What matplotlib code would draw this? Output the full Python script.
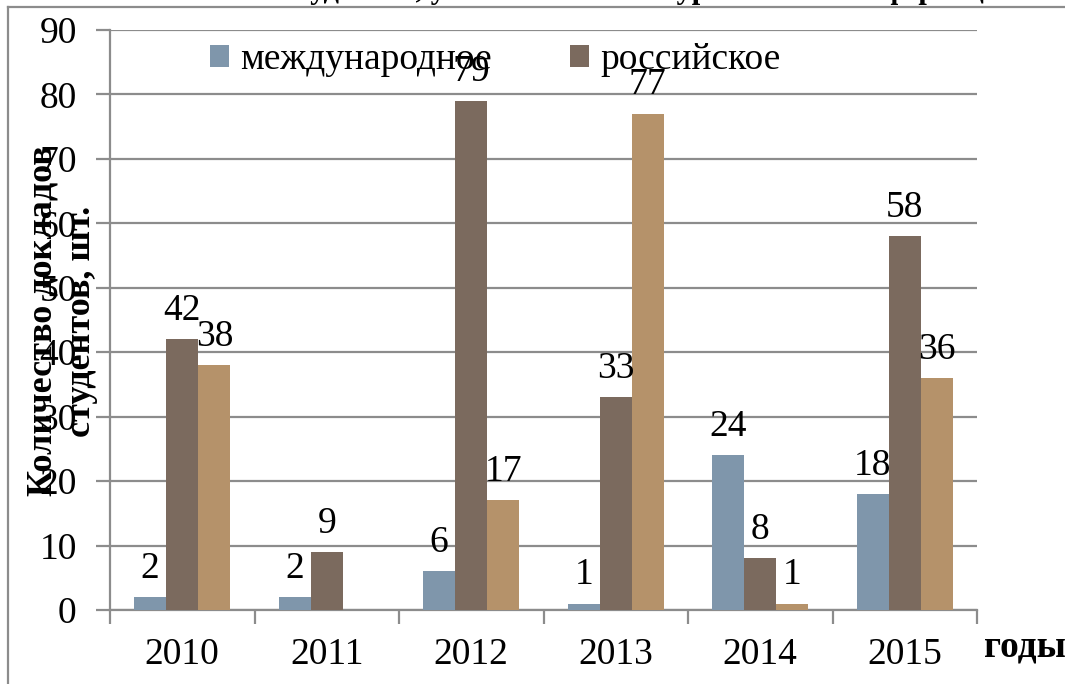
import numpy as np
import matplotlib.pyplot as plt
from matplotlib.lines import Line2D

plt.rcParams['font.family'] = ['Liberation Serif', 'DejaVu Serif']

# Data
years = ['2010', '2011', '2012', '2013', '2014', '2015']
intl = [2, 2, 6, 1, 24, 18]        # международное
russian = [42, 9, 79, 33, 8, 58]   # российское
third = [38, 0, 17, 77, 1, 36]     # третья серия (подпись легенды обрезана)
series_names = ['международное', 'российское']

c_intl = '#7F96AB'
c_rus = '#7B6A5E'
c_third = '#B5926A'
grid_c = '#8C8C8C'

fig = plt.figure(figsize=(10.65, 6.84), dpi=100)
ax = fig.add_axes([110 / 1065, 74 / 684, 867 / 1065, 580 / 684])

x = np.arange(len(years))
w = 0.222
b1 = ax.bar(x - w, intl, w, color=c_intl, label=series_names[0], zorder=3)
b2 = ax.bar(x, russian, w, color=c_rus, label=series_names[1], zorder=3)
b3 = ax.bar(x + w, third, w, color=c_third, zorder=3)

# data labels (zero values are not labelled)
for bars, vals in [(b1, intl), (b2, russian), (b3, third)]:
    for rect, v in zip(bars, vals):
        if v == 0:
            continue
        ax.annotate(str(v), (rect.get_x() + rect.get_width() / 2, v),
                    xytext=(0, 14), textcoords='offset points',
                    ha='center', va='baseline', fontsize=27, zorder=5)

ax.set_xlim(-0.5, len(years) - 0.5)
ax.set_ylim(0, 90)
ax.set_yticks(np.arange(0, 91, 10))
ax.yaxis.grid(True, color=grid_c, lw=1.6, zorder=0)
ax.set_axisbelow(True)

ax.set_xticks(x)
ax.set_xticklabels(years)
ax.set_xticks(np.arange(-0.5, len(years)), minor=True)
ax.tick_params(axis='x', which='major', length=0, pad=20, labelsize=27)
ax.tick_params(axis='x', which='minor', length=10, width=1.6, color=grid_c, direction='out')
ax.tick_params(axis='y', length=10, width=1.6, color=grid_c, direction='out', pad=14, labelsize=27)

for s in ['top', 'right']:
    ax.spines[s].set_visible(False)
for s in ['left', 'bottom']:
    ax.spines[s].set_color(grid_c)
    ax.spines[s].set_linewidth(1.6)

# y axis title (overlaps the tick labels, as in the original)
fig.text(62 / 1065, 1 - 321 / 684, 'Количество докладов\nстудентов, шт.',
         fontsize=26, fontweight='bold', rotation=90, ha='center', va='center',
         multialignment='center', linespacing=1.2, zorder=6)

fig.text(1025 / 1065, 1 - 647 / 684, 'годы', fontsize=27, fontweight='bold',
         ha='center', va='center')

ax.legend(loc='upper left', bbox_to_anchor=(100 / 867, 0.978), ncol=2, frameon=False,
          fontsize=27, handlelength=0.5, handleheight=0.5, handletextpad=0.3,
          columnspacing=2.1, borderaxespad=0, borderpad=0)

# title cut off at the top of the picture
fig.text(0.56, 1 + 2 / 684, 'Участие студентов, участвовавших в уровневых конференциях',
         fontsize=22, fontweight='bold', ha='center', va='baseline')

# outer chart frame
fig.add_artist(Line2D([8 / 1065, 8 / 1065], [0, 1 - 7 / 684], color=grid_c, lw=1.6))
fig.add_artist(Line2D([8 / 1065, 1], [1 - 7 / 684, 1 - 7 / 684], color=grid_c, lw=1.6))

fig.savefig('out.png', dpi=100)
